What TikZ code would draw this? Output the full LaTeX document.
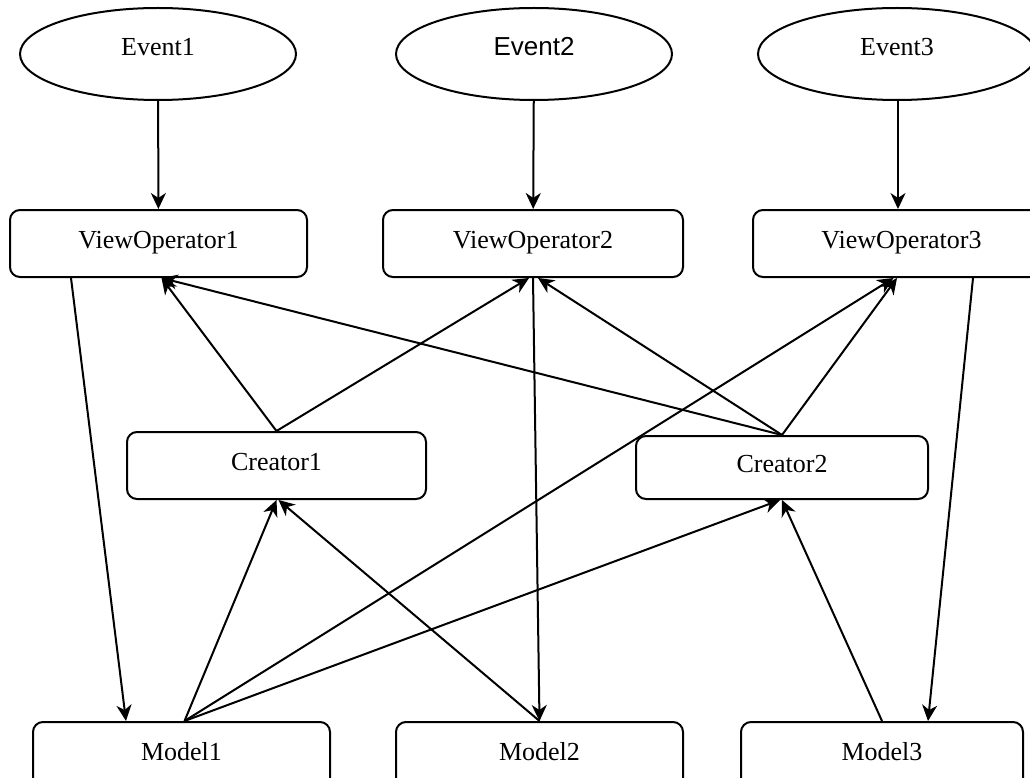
\documentclass[tikz,border=0pt]{standalone}
\usepackage{fontspec}
\setmainfont{Liberation Serif}
\newfontfamily\arialfont{Liberation Sans}
\usetikzlibrary{shapes.geometric,arrows.meta}
\tikzset{
  base/.style={draw, line width=2pt, font=\fontsize{26}{30}\selectfont, inner sep=0pt},
  ev/.style={base, ellipse, minimum width=276pt, minimum height=92pt, text height=18pt, text depth=14pt},
  bx/.style={base, rectangle, rounded corners=10pt, minimum height=67pt, text height=18pt, text depth=8pt},
  conn/.style={line width=2pt, -{Stealth[length=16pt,width=15pt,inset=5pt]}},
}
\begin{document}
\begin{tikzpicture}[x=1pt,y=-1pt]
\clip (0,0) rectangle (1030,778);
\fill[white] (0,0) rectangle (1030,778);
% events
\node[ev] (e1) at (158,54) {Event1};
\node[ev, font=\arialfont\fontsize{26}{30}\selectfont] (e2) at (534,54) {Event2};
\node[ev, minimum width=278pt] (e3) at (897,54) {Event3};
% view operators
\node[bx, minimum width=297pt] (vo1) at (158.5,243.5) {ViewOperator1};
\node[bx, minimum width=300pt] (vo2) at (533,243.5) {ViewOperator2};
\node[bx, minimum width=297pt] (vo3) at (901.5,243.5) {ViewOperator3};
% creators
\node[bx, minimum width=299pt] (c1) at (276.5,465.5) {Creator1};
\node[bx, minimum width=292pt, minimum height=63pt] (c2) at (782,467.5) {Creator2};
% models
\node[bx, minimum width=297pt] (m1) at (181.5,755.5) {Model1};
\node[bx, minimum width=287pt] (m2) at (539.5,755.5) {Model2};
\node[bx, minimum width=282pt] (m3) at (882,755.5) {Model3};
% connectors
\draw[conn] (e1) -- (vo1);
\draw[conn] (e2) -- (vo2);
\draw[conn] ([xshift=1pt]e3.south) -- ([xshift=-3.5pt]vo3.north);
\draw[conn] ([xshift=62pt]vo1.south west) -- ([xshift=-55.5pt]m1.north);
\draw[conn] (c1.north) -- ([xshift=3pt]vo1.south);
\draw[conn] (c1.north) -- ([xshift=-4pt]vo2.south);
\draw[conn] (c2.north) -- ([xshift=3pt]vo1.south);
\draw[conn] (c2.north) -- ([xshift=5pt]vo2.south);
\draw[conn] (c2.north) -- ([xshift=-4.5pt]vo3.south);
\draw[conn] (vo2.south) -- (m2.north);
\draw[conn] ([xshift=3pt]m1.north) -- (c1.south);
\draw[conn] ([xshift=3pt]m1.north) -- ([xshift=-8pt]vo3.south);
\draw[conn] ([xshift=3pt]m1.north) -- ([xshift=-2pt]c2.south);
\draw[conn] (m2.north) -- ([xshift=2pt]c1.south);
\draw[conn] (m3.north) -- (c2.south);
\draw[conn] ([xshift=71.5pt]vo3.south) -- ([xshift=46pt]m3.north);
\end{tikzpicture}
\end{document}
